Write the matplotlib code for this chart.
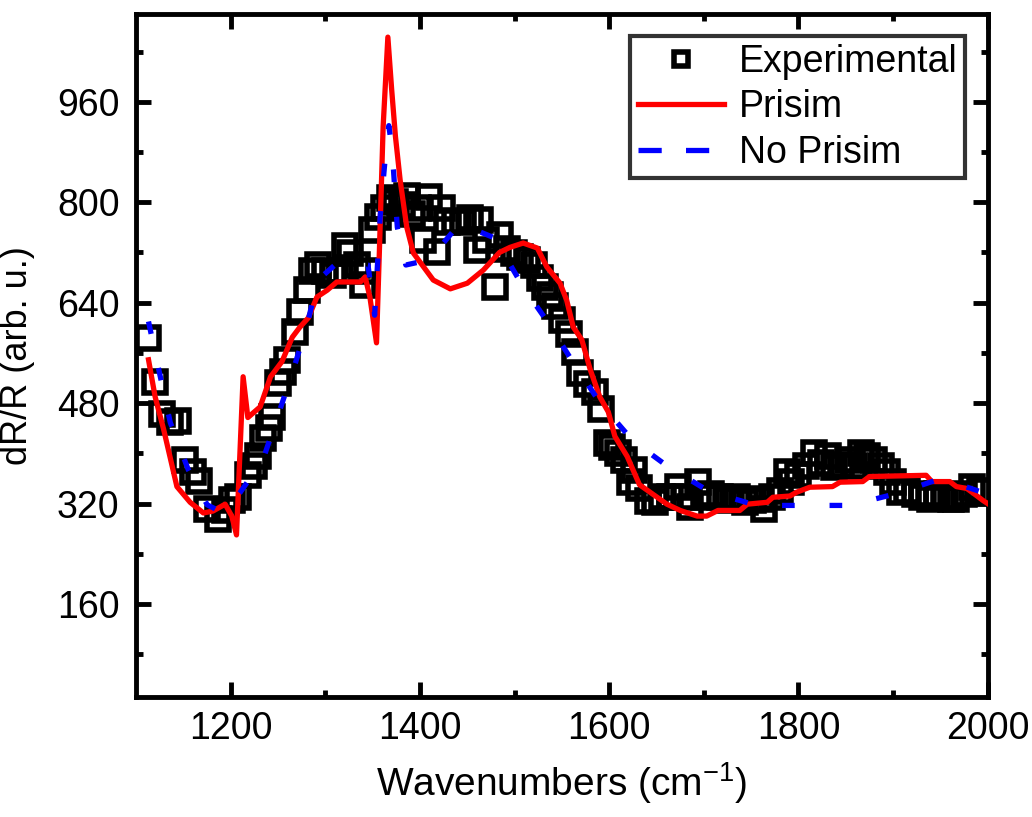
import matplotlib
matplotlib.use("Agg")
import matplotlib.pyplot as plt
from matplotlib.lines import Line2D

plt.rcParams['font.family'] = ['Liberation Sans', 'DejaVu Sans']
plt.rcParams['mathtext.fontset'] = 'custom'
plt.rcParams['mathtext.rm'] = 'Liberation Sans'
plt.rcParams['mathtext.it'] = 'Liberation Sans'

# experimental points (wavenumber, dR/R)
exp_x = [1112, 1120, 1127, 1136, 1144, 1152, 1160, 1166, 1175, 1186, 1194, 1201, 1208,
         1218, 1224, 1229, 1234, 1240, 1244, 1250, 1255, 1259, 1268, 1273, 1280, 1286,
         1292, 1300, 1308, 1315, 1321, 1326, 1333, 1340, 1344, 1349, 1356, 1362, 1368,
         1374, 1381, 1386, 1392, 1398, 1403, 1410, 1418, 1423, 1429, 1437, 1445, 1453,
         1460, 1463, 1470, 1479, 1485, 1492, 1499, 1506, 1513, 1520, 1527, 1532, 1537,
         1543, 1550, 1557, 1564, 1569, 1577, 1585, 1591, 1598, 1603, 1609, 1616, 1622,
         1626, 1632, 1641, 1648, 1656, 1664, 1673, 1680, 1685, 1694, 1700, 1708, 1717,
         1726, 1735, 1743, 1752, 1760, 1764, 1772, 1780, 1788, 1792, 1800, 1808, 1816,
         1824, 1831, 1838, 1845, 1852, 1859, 1866, 1873, 1880, 1887, 1894, 1900, 1907,
         1915, 1923, 1931, 1939, 1947, 1955, 1961, 1967, 1975, 1984, 1992]
exp_y = [584, 514, 462, 450, 451, 390, 370, 356, 311, 295, 310, 325, 330,
         366, 380, 395, 425, 440, 458, 512, 530, 549, 593, 625, 660, 690,
         700, 690, 684, 690, 731, 719, 700, 668, 690, 755, 776, 790, 806,
         800, 795, 810, 782, 790, 740, 808, 720, 790, 768, 770, 768, 775,
         724, 771, 740, 665, 747, 725, 719, 712, 708, 700, 680, 665, 652,
         635, 612, 590, 562, 528, 510, 497, 470, 417, 410, 401, 390, 354,
         374, 345, 324, 322, 330, 330, 347, 330, 314, 354, 330, 335, 331,
         325, 330, 322, 325, 327, 311, 330, 340, 370, 354, 365, 380, 401,
         385, 395, 378, 382, 390, 380, 401, 395, 390, 380, 370, 355, 338,
         340, 335, 330, 327, 335, 330, 327, 327, 335, 347, 340]

# simulation with prism
pr_x = [1113, 1120, 1129, 1143, 1157, 1171, 1181, 1194, 1201, 1206, 1213, 1218, 1231,
        1242, 1254, 1265, 1273, 1282, 1291, 1302, 1312, 1337, 1342, 1347, 1354, 1357,
        1361, 1366, 1370, 1374, 1379, 1386, 1393, 1414, 1432, 1450, 1467, 1484, 1495,
        1509, 1524, 1534, 1548, 1555, 1562, 1571, 1580, 1590, 1599, 1606, 1619, 1632,
        1646, 1661, 1675, 1693, 1703, 1715, 1738, 1746, 1767, 1773, 1791, 1798, 1812,
        1836, 1844, 1868, 1875, 1935, 1941, 1960, 1967, 1978, 1988, 1995, 2000]
pr_y = [549, 490, 438, 347, 322, 305, 308, 319, 300, 270, 522, 457, 474,
        522, 546, 585, 601, 616, 649, 660, 673, 673, 681, 649, 576, 720,
        920, 1063, 980, 905, 835, 760, 719, 676, 662, 671, 692, 720, 728,
        735, 727, 697, 671, 644, 601, 581, 533, 490, 466, 427, 395, 350,
        335, 319, 309, 300, 300, 309, 309, 319, 322, 330, 332, 338, 346,
        347, 354, 355, 363, 365, 355, 355, 347, 344, 333, 325, 320]

# simulation without prism
np_x = [1113, 1120, 1136, 1155, 1175, 1192, 1210, 1234, 1252, 1266, 1280, 1292, 1310,
        1330, 1345, 1352, 1358, 1362, 1365, 1367, 1369, 1372, 1376, 1385, 1400, 1414,
        1442, 1479, 1509, 1535, 1558, 1590, 1625, 1662, 1706, 1756, 1805, 1854, 1904,
        1951, 2000]
np_y = [610, 560, 449, 374, 318, 305, 338, 390, 470, 533, 601, 676, 700,
        705, 700, 620, 780, 850, 900, 922, 900, 850, 760, 700, 705, 716,
        766, 743, 665, 609, 554, 481, 420, 379, 339, 317, 317, 317, 336,
        360, 335]

fig = plt.figure(figsize=(10.32, 8.17), dpi=100)
ax = fig.add_axes([0.132, 0.147, 0.825, 0.836])

ax.plot(exp_x, exp_y, 's', mfc='none', mec='black', ms=16, mew=4, zorder=2)
ax.plot(pr_x, pr_y, '-', color='red', lw=3.8, zorder=3)
ax.plot(np_x, np_y, '--', color='blue', lw=3.8, dashes=(2.4, 6.6), zorder=4)

ax.set_xlim(1100, 2000)
ax.set_ylim(12, 1100)
ax.set_xticks([1200, 1400, 1600, 1800, 2000])
ax.set_xticks([1300, 1500, 1700, 1900], minor=True)
ax.set_yticks([160, 320, 480, 640, 800, 960])
ax.set_yticks([80, 240, 400, 560, 720, 880, 1040], minor=True)

for s in ax.spines.values():
    s.set_linewidth(3.5)
ax.tick_params(which='both', direction='in', top=True, right=True, width=3.5, labelsize=27)
ax.tick_params(which='major', length=11)
ax.tick_params(which='minor', length=5)
ax.tick_params(axis='y', pad=12)
ax.tick_params(axis='x', pad=10)

ax.set_xlabel('Wavenumbers (cm$^{-1}$)', fontsize=28, labelpad=10)
ax.set_ylabel('dR/R (arb. u.)', fontsize=26, labelpad=16)

h_exp = Line2D([], [], ls='none', marker='s', mfc='none', mec='black', ms=10, mew=4)
h_pr = Line2D([], [], color='red', lw=3.8)
h_np = Line2D([], [], color='blue', lw=3.8, dashes=(4.4, 4.6))
leg = ax.legend([h_exp, h_pr, h_np], ['Experimental', 'Prisim', 'No Prisim'],
                loc='upper right', fontsize=27, frameon=True, fancybox=False,
                edgecolor='black', handlelength=2.3, handletextpad=0.4,
                labelspacing=0.25, borderpad=0.2, borderaxespad=0.6)
leg.get_frame().set_linewidth(3)

fig.savefig('out.png', dpi=100)
